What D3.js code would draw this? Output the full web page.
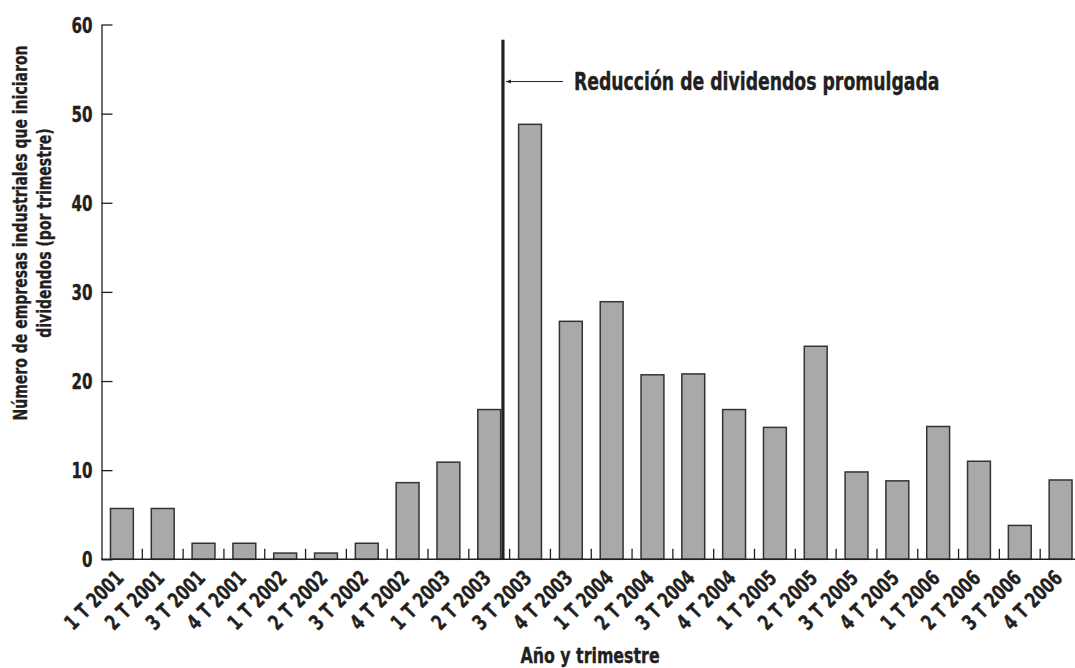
<!DOCTYPE html>
<html>
<head>
<meta charset="utf-8">
<script src="https://cdn.jsdelivr.net/npm/d3@7"></script>
<style>
  html, body { margin: 0; padding: 0; background: #fff; }
  svg { display: block; }
  text { font-family: "DejaVu Sans Condensed", "Liberation Sans Narrow", sans-serif; font-weight: bold; fill: #231f20; stroke: #231f20; stroke-width: 0.35; }
</style>
</head>
<body>
<svg id="chart" width="1075" height="668"></svg>
<script>
const categories = [
  "1 T 2001","2 T 2001","3 T 2001","4 T 2001",
  "1 T 2002","2 T 2002","3 T 2002","4 T 2002",
  "1 T 2003","2 T 2003","3 T 2003","4 T 2003",
  "1 T 2004","2 T 2004","3 T 2004","4 T 2004",
  "1 T 2005","2 T 2005","3 T 2005","4 T 2005",
  "1 T 2006","2 T 2006","3 T 2006","4 T 2006"
];
const values = [
  5.7, 5.7, 1.8, 1.8,
  0.7, 0.7, 1.8, 8.6,
  10.9, 16.8, 48.8, 26.7,
  28.9, 20.7, 20.8, 16.8,
  14.8, 23.9, 9.8, 8.8,
  14.9, 11.0, 3.8, 8.9
];
const yTicks = [0, 10, 20, 30, 40, 50, 60];
const yTitleLines = ["Número de empresas industriales que iniciaron", "dividendos (por trimestre)"];
const xTitle = "Año y trimestre";
const eventCategory = "2 T 2003";
const eventLabel = "Reducción de dividendos promulgada";
const eventValue = 58.3;
const arrowValue = 53.6;

(function () {
const K = 0.8; // horizontal condensation to mimic a condensed bold face
const svg = d3.select("#chart");
const mLeft = 101.5, mRight = 1081, mTop = 24.5, mBottom = 559.3;

const x = d3.scaleBand().domain(categories).range([mLeft, mRight]).paddingInner(0.44).paddingOuter(0.22);
const y = d3.scaleLinear().domain([0, 60]).range([mBottom, mTop]);

function label(parent, tx, ty, rot, size, anchor, txt) {
  return parent.append("text")
    .attr("transform", `translate(${tx},${ty}) rotate(${rot}) scale(${K},1)`)
    .attr("text-anchor", anchor)
    .attr("font-size", size)
    .text(txt);
}

// bars
svg.append("g").selectAll("rect").data(values).join("rect")
  .attr("x", (d, i) => x(categories[i]))
  .attr("y", d => y(d))
  .attr("width", x.bandwidth())
  .attr("height", d => y(0) - y(d))
  .attr("fill", "#a9a9aa")
  .attr("stroke", "#333")
  .attr("stroke-width", 1.5);

// y axis
const yAxis = d3.axisLeft(y).tickValues(yTicks).tickSizeInner(-11).tickSizeOuter(0).tickPadding(8);
const gy = svg.append("g").attr("transform", `translate(${mLeft},0)`).call(yAxis);
gy.attr("font-family", null).attr("font-size", null);
gy.select(".domain").attr("stroke", "#231f20").attr("stroke-width", 1.3);
gy.selectAll(".tick line").attr("stroke", "#231f20").attr("stroke-width", 1.3);
gy.selectAll(".tick text").attr("font-size", 21).attr("fill", "#231f20")
  .attr("transform", `translate(-9,0) scale(${K},1)`).attr("x", 0).attr("dy", "0.36em");

// x axis
const step = x.step();
const gx = svg.append("g").attr("transform", `translate(0,${mBottom})`);
gx.append("line").attr("x1", mLeft).attr("x2", 1075).attr("y1", 0).attr("y2", 0)
  .attr("stroke", "#231f20").attr("stroke-width", 1.5);
gx.selectAll("line.sep").data(categories.slice(1)).join("line").attr("class", "sep")
  .attr("x1", d => x(d) - step * x.paddingInner() / 2)
  .attr("x2", d => x(d) - step * x.paddingInner() / 2)
  .attr("y1", 0).attr("y2", -10.5)
  .attr("stroke", "#231f20").attr("stroke-width", 1.3);
categories.forEach(c => {
  label(gx, x(c) + x.bandwidth() / 2 + 3, 20, -45, 21, "end", c);
});

// event line
const ex = x(eventCategory) + x.bandwidth() + 2.3;
svg.append("line").attr("x1", ex).attr("x2", ex).attr("y1", y(eventValue)).attr("y2", mBottom)
  .attr("stroke", "#231f20").attr("stroke-width", 3.2);
svg.append("defs").append("marker").attr("id", "ah")
  .attr("viewBox", "0 0 10 10").attr("refX", 0).attr("refY", 5)
  .attr("markerWidth", 7).attr("markerHeight", 5).attr("orient", "auto")
  .append("path").attr("d", "M0,5 L10,1 L10,9 Z").attr("fill", "#231f20");
svg.append("line").attr("x1", ex + 3).attr("x2", ex + 60).attr("y1", y(arrowValue)).attr("y2", y(arrowValue))
  .attr("stroke", "#231f20").attr("stroke-width", 1).attr("marker-start", "url(#ah)");
label(svg, ex + 71, y(arrowValue) + 8.5, 0, 24, "start", eventLabel);

// axis titles
label(svg, 590, 663, 0, 22, "middle", xTitle);
const yt = svg.append("text")
  .attr("transform", `translate(27,233) rotate(-90) scale(${K},1)`)
  .attr("text-anchor", "middle").attr("font-size", 19.5);
yTitleLines.forEach((t, i) => yt.append("tspan").attr("x", 0).attr("y", i * 24).text(t));
})();
</script>
</body>
</html>
